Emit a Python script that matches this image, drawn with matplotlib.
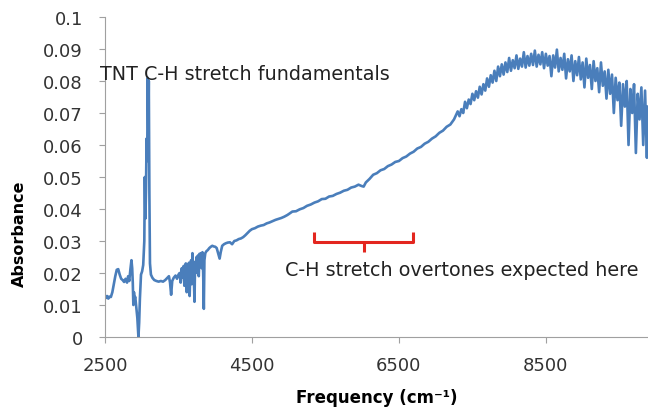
import matplotlib.pyplot as plt

'''数据 (从图上读出来的)'''
# 2500 - 5000 段，细节较多
freq_low = [2500, 2515, 2530, 2545, 2560, 2580, 2600, 2620, 2640, 2660, 2680, 2700, 2720, 2740,
            2760, 2780, 2800, 2815, 2830, 2845, 2860, 2870, 2878, 2886, 2894, 2902, 2912, 2925,
            2940, 2955, 2965, 2975, 2990, 3005, 3020, 3035, 3042, 3050, 3058, 3066, 3074, 3082,
            3090, 3096, 3104, 3112, 3125, 3145, 3170, 3200, 3230, 3260, 3290, 3320, 3350, 3370,
            3385, 3400, 3415, 3435, 3460, 3480, 3500, 3515, 3530, 3545, 3560, 3570, 3580, 3590,
            3600, 3612, 3622, 3632, 3642, 3652, 3662, 3672, 3680, 3690, 3700, 3710, 3718, 3726,
            3736, 3746, 3756, 3766, 3776, 3786, 3796, 3806, 3816, 3826, 3836, 3845, 3853, 3865,
            3880, 3900, 3920, 3940, 3960, 3980, 4000, 4020, 4040, 4060, 4075, 4095, 4120, 4145,
            4170, 4200, 4230, 4260, 4290, 4320, 4350, 4380, 4410, 4440, 4470, 4500, 4540, 4580,
            4620, 4660, 4700, 4740, 4780, 4820, 4860, 4900, 4940, 4980]
abs_low = [0.0130, 0.0122, 0.0128, 0.0120, 0.0126, 0.0125, 0.0140, 0.0165, 0.0190, 0.0210, 0.0212,
           0.0195, 0.0182, 0.0178, 0.0172, 0.0182, 0.0170, 0.0190, 0.0175, 0.0210, 0.0240, 0.0215,
           0.0170, 0.0100, 0.0140, 0.0120, 0.0125, 0.0095, 0.0060, 0.0000, 0.0045, 0.0120, 0.0195,
           0.0205, 0.0225, 0.0300, 0.0500, 0.0370, 0.0460, 0.0620, 0.0550, 0.0810, 0.0640, 0.0800,
           0.0450, 0.0230, 0.0195, 0.0185, 0.0178, 0.0175, 0.0173, 0.0175, 0.0173, 0.0178, 0.0185,
           0.0190, 0.0170, 0.0132, 0.0175, 0.0185, 0.0192, 0.0182, 0.0195, 0.0200, 0.0170, 0.0215,
           0.0185, 0.0222, 0.0160, 0.0205, 0.0230, 0.0140, 0.0210, 0.0180, 0.0232, 0.0128, 0.0215,
           0.0240, 0.0165, 0.0262, 0.0205, 0.0180, 0.0110, 0.0235, 0.0200, 0.0250, 0.0215, 0.0255,
           0.0190, 0.0260, 0.0222, 0.0262, 0.0215, 0.0265, 0.0200, 0.0088, 0.0240, 0.0262, 0.0268,
           0.0272, 0.0278, 0.0282, 0.0285, 0.0283, 0.0282, 0.0278, 0.0262, 0.0245, 0.0265, 0.0285,
           0.0290, 0.0293, 0.0295, 0.0296, 0.0290, 0.0300, 0.0302, 0.0306, 0.0308, 0.0312, 0.0318,
           0.0325, 0.0332, 0.0337, 0.0340, 0.0345, 0.0348, 0.0350, 0.0355, 0.0358, 0.0362, 0.0366,
           0.0369, 0.0372, 0.0376, 0.0381]

# 5000 - 7250 段，基本是平滑上升，带一点小抖动
freq_mid = [5000, 5050, 5100, 5150, 5200, 5250, 5300, 5350, 5400, 5450, 5500, 5550, 5600, 5650,
            5700, 5750, 5800, 5850, 5900, 5950, 5990, 6020, 6050, 6100, 6150, 6200, 6250, 6300,
            6350, 6400, 6450, 6500, 6550, 6600, 6650, 6700, 6750, 6800, 6850, 6900, 6950, 7000,
            7050, 7100, 7150, 7200, 7250]
abs_mid = [0.0384, 0.0392, 0.0393, 0.0399, 0.0403, 0.0410, 0.0414, 0.0420, 0.0424, 0.0431, 0.0432,
           0.0439, 0.0441, 0.0447, 0.0451, 0.0457, 0.0460, 0.0467, 0.0470, 0.0476, 0.0472, 0.0470,
           0.0483, 0.0494, 0.0507, 0.0512, 0.0521, 0.0525, 0.0534, 0.0539, 0.0547, 0.0550, 0.0559,
           0.0564, 0.0573, 0.0579, 0.0589, 0.0594, 0.0604, 0.0610, 0.0620, 0.0627, 0.0638, 0.0645,
           0.0657, 0.0664, 0.0680]

# 7300 - 9890 段，噪声很大，每25取一个点
freq_high = [7300, 7325, 7350, 7375, 7400, 7425, 7450, 7475, 7500, 7525, 7550, 7575, 7600, 7625,
             7650, 7675, 7700, 7725, 7750, 7775, 7800, 7825, 7850, 7875, 7900, 7925, 7950, 7975,
             8000, 8025, 8050, 8075, 8100, 8125, 8150, 8175, 8200, 8225, 8250, 8275, 8300, 8325,
             8350, 8375, 8400, 8425, 8450, 8475, 8500, 8525, 8550, 8575, 8600, 8625, 8650, 8675,
             8700, 8725, 8750, 8775, 8800, 8825, 8850, 8875, 8900, 8925, 8950, 8975, 9000, 9025,
             9050, 9075, 9100, 9125, 9150, 9175, 9200, 9225, 9250, 9275, 9300, 9325, 9350, 9375,
             9400, 9425, 9450, 9475, 9500, 9525, 9550, 9575, 9600, 9625, 9650, 9675, 9700, 9725,
             9750, 9775, 9800, 9825, 9850, 9875, 9890]
abs_high = [0.0705, 0.0690, 0.0712, 0.0700, 0.0735, 0.0715, 0.0742, 0.0728, 0.0760, 0.0740, 0.0768,
            0.0748, 0.0782, 0.0758, 0.0790, 0.0770, 0.0808, 0.0782, 0.0818, 0.0795, 0.0832, 0.0800,
            0.0845, 0.0815, 0.0852, 0.0820, 0.0858, 0.0828, 0.0872, 0.0832, 0.0865, 0.0840, 0.0880,
            0.0838, 0.0870, 0.0845, 0.0890, 0.0842, 0.0878, 0.0848, 0.0885, 0.0850, 0.0895, 0.0845,
            0.0882, 0.0852, 0.0890, 0.0840, 0.0885, 0.0848, 0.0878, 0.0815, 0.0880, 0.0842, 0.0898,
            0.0830, 0.0872, 0.0835, 0.0885, 0.0808, 0.0868, 0.0830, 0.0880, 0.0800, 0.0862, 0.0818,
            0.0875, 0.0805, 0.0858, 0.0780, 0.0870, 0.0810, 0.0850, 0.0775, 0.0862, 0.0800, 0.0840,
            0.0765, 0.0858, 0.0785, 0.0830, 0.0745, 0.0835, 0.0760, 0.0820, 0.0700, 0.0810, 0.0740,
            0.0795, 0.0660, 0.0790, 0.0720, 0.0800, 0.0600, 0.0775, 0.0700, 0.0790, 0.0575, 0.0760,
            0.0680, 0.0780, 0.0600, 0.0770, 0.0560, 0.0720]

xticks = [2500, 4500, 6500, 8500]
yticks = [0, 0.01, 0.02, 0.03, 0.04, 0.05, 0.06, 0.07, 0.08, 0.09, 0.1]
ytick_labels = ['0', '0.01', '0.02', '0.03', '0.04', '0.05', '0.06', '0.07', '0.08', '0.09', '0.1']

# 红色括号 (左, 中, 右) 和 y 位置
bracket_x = [5340, 6025, 6690]
bracket_y = [0.0328, 0.0297, 0.0266]

freq = freq_low + freq_mid + freq_high
absorbance = abs_low + abs_mid + abs_high

'''画图'''
# Calibri 没有，用比较宽的 DejaVu Sans 来凑宽度
plt.rcParams['font.family'] = ['DejaVu Sans']

fig = plt.figure(figsize=(6.48, 4.10), dpi=100)
ax = fig.add_axes([105 / 648, 1 - 338 / 410, 1 - 105 / 648, 320 / 410])

ax.plot(freq, absorbance, color='#4a7ebb', linewidth=1.9, solid_joinstyle='round')

# 括号
ax.plot([bracket_x[0], bracket_x[0], bracket_x[2], bracket_x[2]],
        [bracket_y[0], bracket_y[1], bracket_y[1], bracket_y[0]],
        color='#e3261f', linewidth=2.2, solid_capstyle='butt')
ax.plot([bracket_x[1], bracket_x[1]], [bracket_y[1], bracket_y[2]],
        color='#e3261f', linewidth=2.2, solid_capstyle='butt')

ax.text(2430, 0.0822, 'TNT C-H stretch fundamentals', fontsize=13.8, color='#222222',
        ha='left', va='center')
ax.text(4950, 0.0212, 'C-H stretch overtones expected here', fontsize=13.8, color='#222222',
        ha='left', va='center')

ax.set_xlim(2500, 9890)
ax.set_ylim(0, 0.1)
ax.set_xticks(xticks)
ax.set_yticks(yticks)
ax.set_yticklabels(ytick_labels)

for s in ['top', 'right']:
    ax.spines[s].set_visible(False)
for s in ['left', 'bottom']:
    ax.spines[s].set_color('#a0a0a0')
    ax.spines[s].set_linewidth(0.8)

ax.tick_params(axis='both', colors='#a0a0a0', labelcolor='#333333', labelsize=13,
               length=4, width=0.8, direction='out')
ax.tick_params(axis='y', pad=12)
ax.tick_params(axis='x', pad=10)

ax.set_xlabel('Frequency (cm⁻¹)', fontsize=12, fontweight='bold')
ax.set_ylabel('Absorbance', fontsize=11.5, fontweight='bold')
ax.xaxis.set_label_coords(0.5, -0.16)
ax.yaxis.set_label_coords(-0.143, 0.325)

fig.savefig('out.png', dpi=100)
